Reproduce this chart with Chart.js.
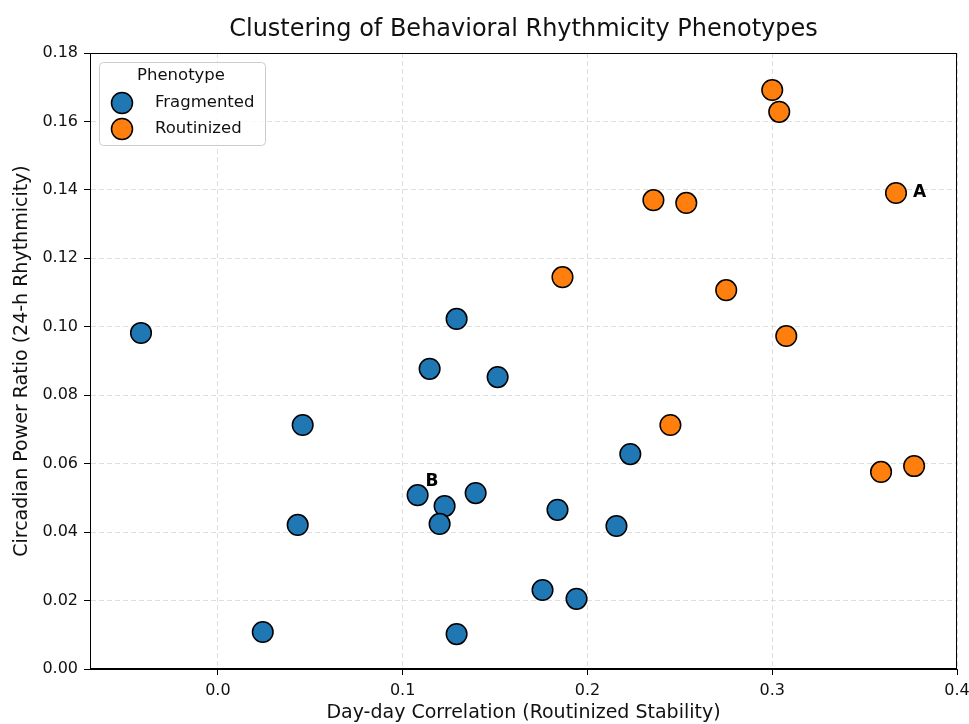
<!DOCTYPE html>
<html>
<head>
<meta charset="utf-8">
<script src="https://cdn.jsdelivr.net/npm/chart.js@4.4.0/dist/chart.umd.min.js"></script>
<style>
  html, body { margin: 0; padding: 0; background: #fff; }
  #wrap { width: 969px; height: 724px; }
</style>
</head>
<body>
<div id="wrap"><canvas id="chart" width="969" height="724"></canvas></div>
<script>
// values
const fragmentedX = [-0.0416, 0.0459, 0.0432, 0.0243, 0.1292, 0.1146, 0.1514, 0.1081, 0.1227, 0.1200, 0.1395, 0.1838, 0.2232, 0.2157, 0.1757, 0.1941, 0.1292];
const fragmentedY = [0.0982, 0.0713, 0.0421, 0.0108, 0.1023, 0.0877, 0.0853, 0.0508, 0.0476, 0.0424, 0.0514, 0.0465, 0.0628, 0.0418, 0.0231, 0.0205, 0.0102];
const routinizedX = [0.3000, 0.3038, 0.2357, 0.2535, 0.3670, 0.1865, 0.2751, 0.3076, 0.2449, 0.3589, 0.3768];
const routinizedY = [0.1692, 0.1628, 0.1370, 0.1362, 0.1391, 0.1145, 0.1107, 0.0973, 0.0713, 0.0576, 0.0593];

const seriesNames = ["Fragmented", "Routinized"];
const seriesColors = ["#1f77b4", "#ff7f0e"];
const xTicks = [0.0, 0.1, 0.2, 0.3, 0.4];
const yTicks = [0.00, 0.02, 0.04, 0.06, 0.08, 0.10, 0.12, 0.14, 0.16, 0.18];

// labelled points: dataset index, point index, text
const calloutSets = [1, 0];
const calloutPoints = [4, 7];
const calloutText = ["A", "B"];
const calloutOffsets = [[17, 0], [8, -14]];

const FONT = "'DejaVu Sans', sans-serif";
const TEXT = "#111";

const toPoints = (xs, ys) => xs.map((x, i) => ({ x: x, y: ys[i] }));

const framePlugin = {
    id: "frame",
    afterDraw(chart) {
        const ctx = chart.ctx;
        const a = chart.chartArea;
        ctx.save();
        ctx.strokeStyle = "#000";
        ctx.lineWidth = 1;
        ctx.strokeRect(Math.round(a.left) + 0.5, Math.round(a.top) + 0.5,
            Math.round(a.right - a.left) - 1, Math.round(a.bottom - a.top) - 1);

        // title
        ctx.fillStyle = TEXT;
        ctx.font = "24px " + FONT;
        ctx.textAlign = "center";
        ctx.textBaseline = "alphabetic";
        ctx.fillText("Clustering of Behavioral Rhythmicity Phenotypes", (a.left + a.right) / 2, 36);

        // callouts
        ctx.font = "bold 17px " + FONT;
        ctx.fillStyle = "#000";
        ctx.textAlign = "left";
        ctx.textBaseline = "middle";
        calloutText.forEach((t, k) => {
            const el = chart.getDatasetMeta(calloutSets[k]).data[calloutPoints[k]];
            ctx.fillText(t, el.x + calloutOffsets[k][0], el.y + calloutOffsets[k][1]);
        });
        ctx.restore();

        // legend
        ctx.save();
        const lx = 99, ly = 62, lw = 166, lh = 83;
        ctx.fillStyle = "rgba(255,255,255,0.8)";
        ctx.strokeStyle = "#cccccc";
        ctx.lineWidth = 1;
        ctx.beginPath();
        ctx.roundRect(lx + 0.5, ly + 0.5, lw, lh, 4);
        ctx.fill();
        ctx.stroke();
        ctx.fillStyle = TEXT;
        ctx.font = "16.5px " + FONT;
        ctx.textAlign = "center";
        ctx.textBaseline = "middle";
        ctx.fillText("Phenotype", 181, 76);
        ctx.textAlign = "left";
        seriesNames.forEach((name, k) => {
            const cy = 103 + k * 26;
            ctx.beginPath();
            ctx.arc(122, cy, 10.5, 0, Math.PI * 2);
            ctx.fillStyle = seriesColors[k];
            ctx.fill();
            ctx.lineWidth = 1.5;
            ctx.strokeStyle = "#000";
            ctx.stroke();
            ctx.fillStyle = TEXT;
            ctx.fillText(name, 155, cy);
        });
        ctx.restore();
    }
};

const gridStyle = {
    color: "rgba(176,176,176,0.4)",
    drawTicks: true,
    tickLength: 6,
    tickColor: "#000",
    tickBorderDash: [],
    tickWidth: 1
};

const ctx = document.getElementById("chart").getContext("2d");

new Chart(ctx, {
    type: "scatter",
    data: {
        datasets: [{
            label: seriesNames[0],
            data: toPoints(fragmentedX, fragmentedY),
            backgroundColor: seriesColors[0],
            borderColor: "#000",
            borderWidth: 1.5,
            pointRadius: 10.3,
            pointHoverRadius: 10.3
        }, {
            label: seriesNames[1],
            data: toPoints(routinizedX, routinizedY),
            backgroundColor: seriesColors[1],
            borderColor: "#000",
            borderWidth: 1.5,
            pointRadius: 10.3,
            pointHoverRadius: 10.3
        }]
    },
    options: {
        responsive: false,
        animation: false,
        events: [],
        layout: { padding: { top: 53, right: 12, left: 0, bottom: 0 } },
        plugins: {
            legend: { display: false },
            title: { display: false },
            tooltip: { enabled: false }
        },
        scales: {
            x: {
                type: "linear",
                min: -0.0692,
                max: 0.4,
                afterBuildTicks: axis => { axis.ticks = xTicks.map(v => ({ value: v })); },
                afterFit: axis => {
                    axis.height = 55;
                    axis.paddingRight = 0;
                    axis.paddingLeft = 0;
                },
                ticks: {
                    color: TEXT,
                    font: { family: FONT, size: 16 },
                    padding: 6,
                    maxRotation: 0,
                    callback: v => v.toFixed(1)
                },
                grid: gridStyle,
                border: { display: true, color: "#000", width: 1, dash: [5, 3] },
                title: {
                    display: true,
                    text: "Day-day Correlation (Routinized Stability)",
                    color: TEXT,
                    font: { family: FONT, size: 19 },
                    padding: { top: 0, bottom: 0 }
                }
            },
            y: {
                type: "linear",
                min: 0,
                max: 0.18,
                afterBuildTicks: axis => { axis.ticks = yTicks.map(v => ({ value: v })); },
                afterFit: axis => {
                    axis.width = 90;
                    axis.paddingTop = 0;
                    axis.paddingBottom = 0;
                },
                ticks: {
                    color: TEXT,
                    font: { family: FONT, size: 16 },
                    padding: 6,
                    callback: v => v.toFixed(2)
                },
                grid: gridStyle,
                border: { display: true, color: "#000", width: 1, dash: [5, 3] },
                title: {
                    display: true,
                    text: "Circadian Power Ratio (24-h Rhythmicity)",
                    color: TEXT,
                    font: { family: FONT, size: 19 },
                    padding: { top: 11, bottom: 0 }
                }
            }
        }
    },
    plugins: [framePlugin]
});
</script>
</body>
</html>
